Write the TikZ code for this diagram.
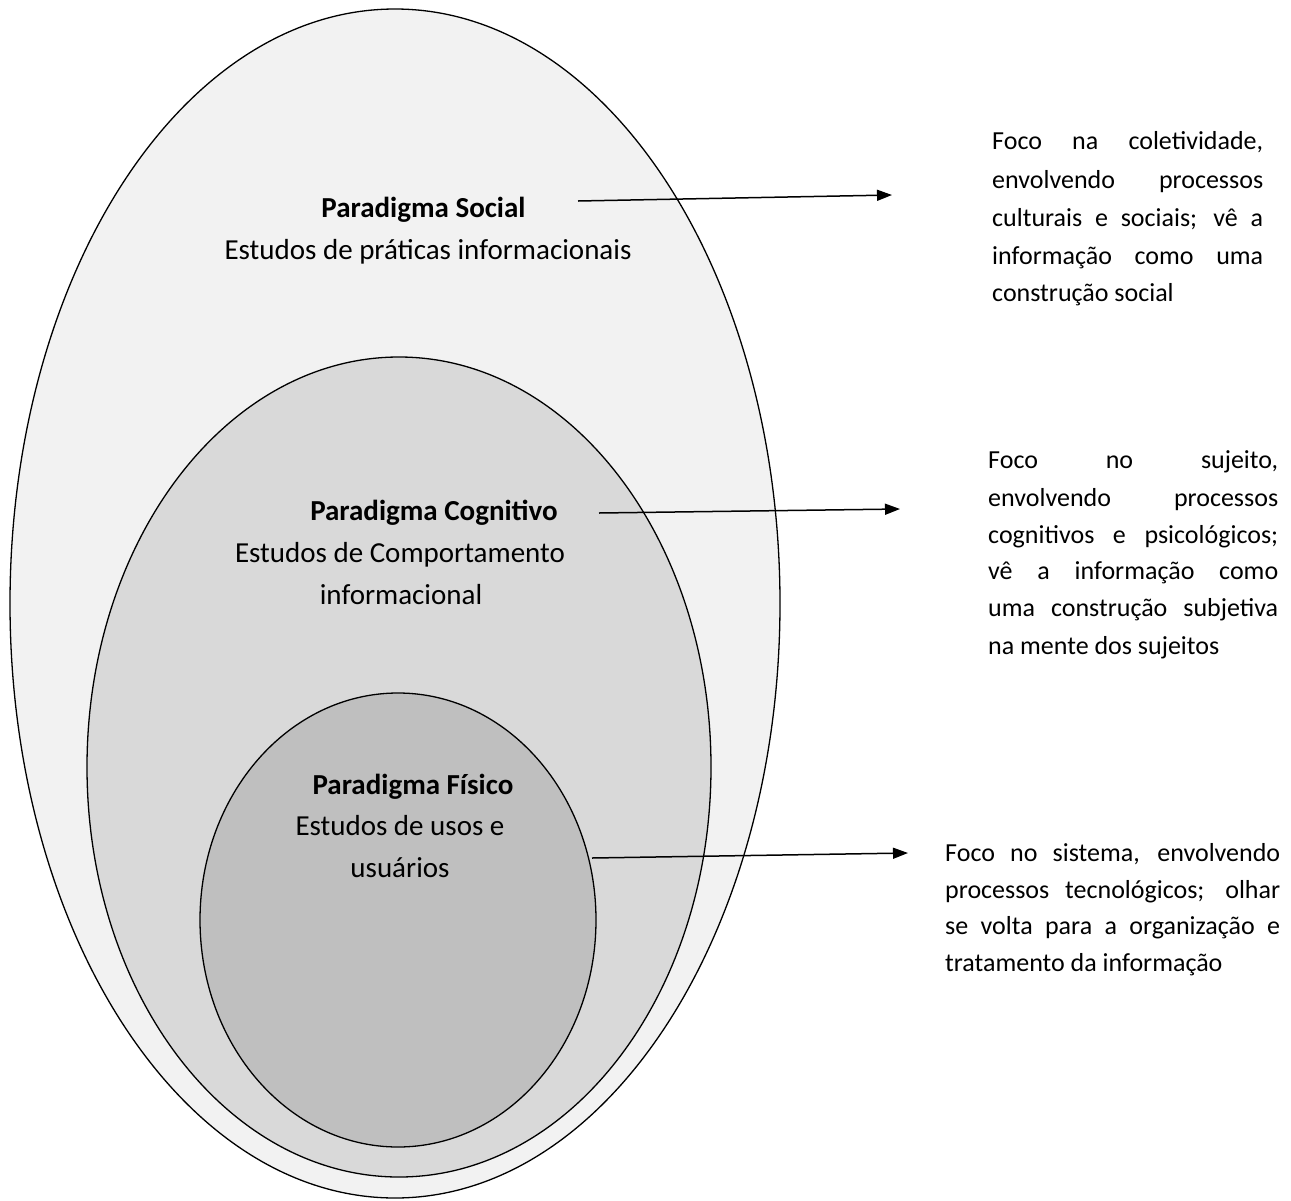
\documentclass[tikz,border=0pt]{standalone}
\usepackage{fontspec}
\setmainfont{Carlito}
\usetikzlibrary{arrows.meta}
\definecolor{cOuter}{HTML}{F2F2F2}
\definecolor{cMiddle}{HTML}{D9D9D9}
\definecolor{cInner}{HTML}{BFBFBF}
\newcommand{\ltxt}{\fontsize{29}{35}\selectfont}
\newcommand{\rtxt}{\fontsize{26}{37}\selectfont}
\begin{document}
\begin{tikzpicture}[x=1pt,y=-1pt,
  ellline/.style={draw=black, line width=1.3pt},
  lt/.style={anchor=base, inner sep=0pt, font=\ltxt},
  ltb/.style={anchor=base, inner sep=0pt, font=\ltxt\bfseries},
  rl/.style={anchor=base west, inner sep=0pt, font=\rtxt},
  arr/.style={line width=1.5pt, -{Triangle[length=15pt,width=11pt]}}]
\useasboundingbox (0,0) rectangle (1291,1200);
\fill[white] (0,0) rectangle (1291,1200);
% ellipses
\draw[ellline, fill=cOuter] (395,603.5) ellipse [x radius=385pt, y radius=594.5pt];
\draw[ellline, fill=cMiddle] (399,767) ellipse [x radius=312pt, y radius=410pt];
\draw[ellline, fill=cInner] (398,920) ellipse [x radius=198pt, y radius=227pt];
% left texts
\node[ltb] (ps) at (423.5,217) {Paradigma Social};
\node[lt] (ps2) at (428,259) {Estudos de práticas informacionais};
\node[ltb] (pc) at (434,520) {Paradigma Cognitivo};
\node[lt] (pc2) at (400,562) {Estudos de Comportamento};
\node[lt] (pc3) at (401,604) {informacional};
\node[ltb] (pf) at (413,794) {Paradigma Físico};
\node[lt] (pf2) at (400,835) {Estudos de usos e};
\node[lt] (pf3) at (400,877) {usuários};
% right block 1
\node[rl] (r1a) at (992,149.5) {\makebox[271pt][s]{Foco na coletividade,}};
\node[rl] (r1b) at (992,188) {\makebox[271pt][s]{envolvendo processos}};
\node[rl] (r1c) at (992,226) {\makebox[271pt][s]{culturais e sociais; vê a}};
\node[rl] (r1d) at (992,264) {\makebox[271pt][s]{informação como uma}};
\node[rl] (r1e) at (992,301.5) {construção social};
% right block 2
\node[rl] (r2a) at (988,468.5) {\makebox[290pt][s]{Foco no sujeito,}};
\node[rl] (r2b) at (988,506.5) {\makebox[290pt][s]{envolvendo processos}};
\node[rl] (r2c) at (988,543.5) {\makebox[290pt][s]{cognitivos e psicológicos;}};
\node[rl] (r2d) at (988,579.5) {\makebox[290pt][s]{vê a informação como}};
\node[rl] (r2e) at (988,616.5) {\makebox[290pt][s]{uma construção subjetiva}};
\node[rl] (r2f) at (988,654.5) {na mente dos sujeitos};
% right block 3
\node[rl] (r3a) at (945,861.5) {\makebox[335pt][s]{Foco no sistema, envolvendo}};
\node[rl] (r3b) at (945,898.5) {\makebox[335pt][s]{processos tecnológicos; olhar}};
\node[rl] (r3c) at (945,934.5) {\makebox[335pt][s]{se volta para a organização e}};
\node[rl] (r3d) at (945,971.5) {tratamento da informação};
% arrows
\coordinate (s1) at (578,201);
\coordinate (e1) at (892,195);
\coordinate (s2) at (599,513);
\coordinate (e2) at (900,509);
\coordinate (s3) at (592,858);
\coordinate (e3) at (908,853);
\draw[arr] (s1) -- (e1);
\draw[arr] (s2) -- (e2);
\draw[arr] (s3) -- (e3);
\end{tikzpicture}
\end{document}
